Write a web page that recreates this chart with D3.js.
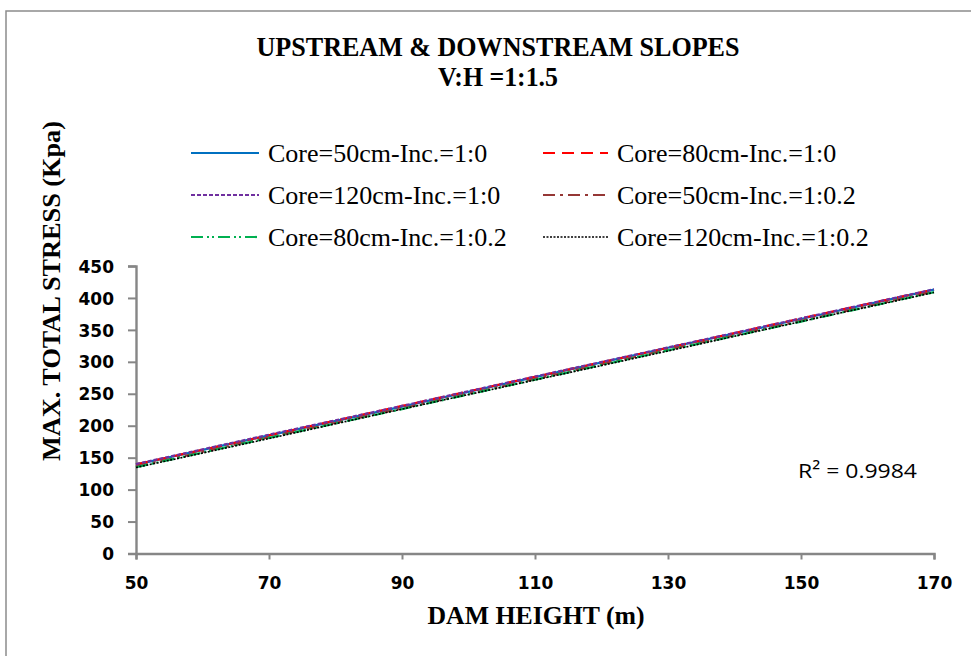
<!DOCTYPE html>
<html>
<head>
<meta charset="utf-8">
<script src="https://cdn.jsdelivr.net/npm/d3@7"></script>
<style>
  html, body { margin: 0; padding: 0; background: #fff; }
  svg { display: block; }
</style>
</head>
<body>
<div id="chart"></div>
<script>
// Dam height (m) at which the maximum total stress was evaluated
const heights = [50, 70, 90, 110, 130, 150, 170];

// Maximum total stress (kPa) for each core width / inclination case
const core50inc0   = [139, 185, 230, 276, 322, 367, 413];
const core80inc0   = [139.5, 185, 231, 276.5, 322, 368, 413];
const core120inc0  = [140, 186, 231, 277, 322.5, 368, 413.5];
const core50inc02  = [136, 182, 227, 273, 319, 364, 410];
const core80inc02  = [135, 181, 226, 272, 318, 363, 409];
const core120inc02 = [134.5, 180, 226, 271.5, 317, 363, 408.5];

const seriesNames = [
  "Core=50cm-Inc.=1:0", "Core=80cm-Inc.=1:0",
  "Core=120cm-Inc.=1:0", "Core=50cm-Inc.=1:0.2",
  "Core=80cm-Inc.=1:0.2", "Core=120cm-Inc.=1:0.2"
];
const seriesValues = [core50inc0, core80inc0, core120inc0, core50inc02, core80inc02, core120inc02];

const xTicks = [50, 70, 90, 110, 130, 150, 170];
const yTicks = [0, 50, 100, 150, 200, 250, 300, 350, 400, 450];

const titleLines = ["UPSTREAM & DOWNSTREAM SLOPES", "V:H =1:1.5"];
const xTitle = "DAM HEIGHT (m)";
const yTitle = "MAX. TOTAL STRESS (Kpa)";
const r2Label = "R² = 0.9984";

// Line styles per series
const styles = [
  { color: "#0070c0", dash: null,            width: 2.2 },
  { color: "#ff0000", dash: "12,7",          width: 2.2 },
  { color: "#7030a0", dash: "4,2",           width: 2.2 },
  { color: "#953735", dash: "12,5,3,5",      width: 2.2 },
  { color: "#00b050", dash: "12,4,2,3,2,4",  width: 2.2 },
  { color: "#000000", dash: "2,1.5",         width: 1.6 }
];

const W = 971, H = 656;
const svg = d3.select("#chart").append("svg").attr("width", W).attr("height", H);

// outer chart frame
svg.append("rect").attr("x", 6).attr("y", 11).attr("width", 1000).attr("height", 700)
  .attr("fill", "none").attr("stroke", "#8c8c8c").attr("stroke-width", 1.5);

const serif = "'Liberation Serif', 'Times New Roman', serif";
const tickFont = "'DejaVu Sans', sans-serif";
const sans = "'Open Sans', Calibri, sans-serif";

const plot = { left: 136, right: 934, top: 266, bottom: 553.5 };

const x = d3.scaleLinear().domain([50, 170]).range([plot.left, plot.right]);
const y = d3.scaleLinear().domain([0, 450]).range([plot.bottom, plot.top]);

// title
svg.append("text").attr("x", 498).attr("y", 56).attr("text-anchor", "middle")
  .attr("font-family", serif).attr("font-weight", "bold").attr("font-size", 27)
  .attr("textLength", 483).attr("lengthAdjust", "spacingAndGlyphs")
  .text(titleLines[0]);
svg.append("text").attr("x", 498).attr("y", 86).attr("text-anchor", "middle")
  .attr("font-family", serif).attr("font-weight", "bold").attr("font-size", 27)
  .attr("textLength", 120).attr("lengthAdjust", "spacingAndGlyphs")
  .text(titleLines[1]);

// axes
const xAxis = svg.append("g").attr("transform", `translate(0,${plot.bottom})`)
  .call(d3.axisBottom(x).tickValues(xTicks).tickSize(6).tickPadding(17));
const yAxis = svg.append("g").attr("transform", `translate(${plot.left},0)`)
  .call(d3.axisLeft(y).tickValues(yTicks).tickSize(8).tickPadding(14));

[xAxis, yAxis].forEach(g => {
  g.select(".domain").attr("stroke", "#868686").attr("stroke-width", 2.4);
  g.selectAll(".tick line").attr("stroke", "#868686").attr("stroke-width", 2);
  g.selectAll(".tick text").attr("font-family", tickFont).attr("font-weight", "bold")
    .attr("font-size", 17).attr("fill", "#000");
});
yAxis.selectAll(".tick text").attr("dy", "0.36em");

// series lines
const line = d3.line().x((d, i) => x(heights[i])).y(d => y(d));
seriesValues.forEach((vals, i) => {
  const s = styles[i];
  svg.append("path").datum(vals).attr("d", line)
    .attr("fill", "none").attr("stroke", s.color).attr("stroke-width", s.width)
    .attr("stroke-dasharray", s.dash);
});

// legend
const legendCols = [{ lx: 191, tx: 268 }, { lx: 543, tx: 617 }];
const legendRows = [153, 195, 237];
seriesNames.forEach((name, i) => {
  const c = legendCols[i % 2], r = legendRows[Math.floor(i / 2)];
  const s = styles[i];
  svg.append("line").attr("x1", c.lx).attr("x2", c.tx - 9).attr("y1", r).attr("y2", r)
    .attr("stroke", s.color).attr("stroke-width", s.width).attr("stroke-dasharray", s.dash);
  svg.append("text").attr("x", c.tx).attr("y", r).attr("dy", "0.35em")
    .attr("font-family", serif).attr("font-size", 26).attr("fill", "#000")
    .text(name);
});

// axis titles
svg.append("text").attr("x", 536).attr("y", 624).attr("text-anchor", "middle")
  .attr("font-family", serif).attr("font-weight", "bold").attr("font-size", 25)
  .attr("textLength", 217).attr("lengthAdjust", "spacingAndGlyphs")
  .text(xTitle);
svg.append("text").attr("transform", `translate(60,291) rotate(-90)`)
  .attr("text-anchor", "middle")
  .attr("font-family", serif).attr("font-weight", "bold").attr("font-size", 26)
  .attr("textLength", 340).attr("lengthAdjust", "spacingAndGlyphs")
  .text(yTitle);

// coefficient of determination
svg.append("text").attr("x", 798).attr("y", 478)
  .attr("font-family", sans).attr("font-size", 20).attr("fill", "#000")
  .attr("textLength", 119).attr("lengthAdjust", "spacingAndGlyphs")
  .text(r2Label);
</script>
</body>
</html>
